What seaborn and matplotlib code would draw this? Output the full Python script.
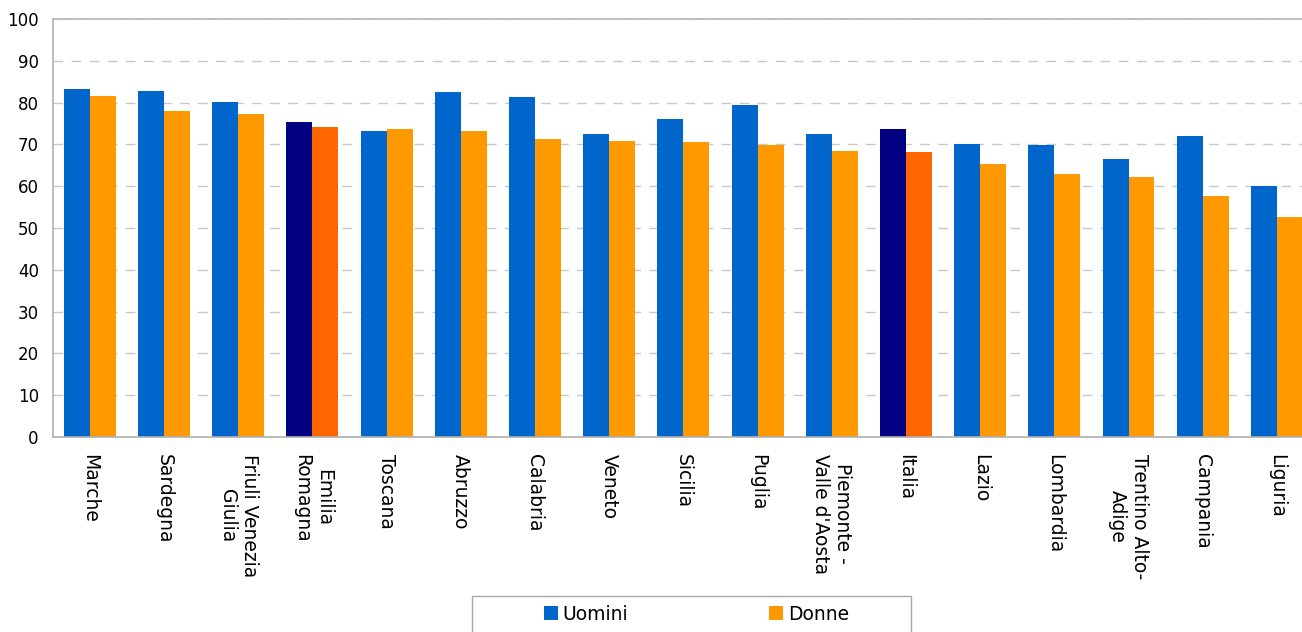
import matplotlib
matplotlib.use("Agg")
import matplotlib.pyplot as plt
import seaborn as sns
import pandas as pd
import numpy as np
from matplotlib.patches import Patch, Rectangle

regions = ["Marche", "Sardegna", "Friuli Venezia\nGiulia", "Emilia\nRomagna", "Toscana",
           "Abruzzo", "Calabria", "Veneto", "Sicilia", "Puglia", "Piemonte -\nValle d'Aosta",
           "Italia", "Lazio", "Lombardia", "Trentino Alto-\nAdige", "Campania", "Liguria"]
uomini = [83.2, 82.8, 80.1, 75.4, 73.2, 82.5, 81.3, 72.5, 76.1, 79.4, 72.5,
          73.7, 70.0, 69.9, 66.5, 72.0, 60.0]
donne = [81.6, 78.0, 77.3, 74.2, 73.7, 73.2, 71.3, 70.8, 70.6, 69.9, 68.4,
         68.2, 65.3, 62.9, 62.2, 57.6, 52.6]
series = ["Uomini", "Donne"]
highlight = ["Emilia\nRomagna", "Italia"]

col_u = "#0066CC"
col_d = "#FF9900"
col_u_hl = "#000080"
col_d_hl = "#FF6600"

df = pd.DataFrame({
    "regione": regions * 2,
    "valore": uomini + donne,
    "sesso": ["Uomini"] * len(regions) + ["Donne"] * len(regions),
})

sns.set_style("white")
plt.rcParams['font.family'] = ['DejaVu Sans']
plt.rcParams['text.color'] = 'black'
plt.rcParams['xtick.color'] = 'black'
plt.rcParams['ytick.color'] = 'black'

W, H = 1302, 632
fig = plt.figure(figsize=(W / 100, H / 100), dpi=100)
left, right, top, bottom = 52.7, 1314.0, 19.0, 437.0
ax = fig.add_axes([left / W, 1 - bottom / H, (right - left) / W, (bottom - top) / H])

sns.barplot(data=df, x="regione", y="valore", hue="sesso", order=regions, hue_order=series,
            palette=[col_u, col_d], width=0.70, saturation=1, ax=ax, legend=False,
            linewidth=0, edgecolor="none")

for i, r in enumerate(regions):
    if r in highlight:
        ax.containers[0][i].set_facecolor(col_u_hl)
        ax.containers[1][i].set_facecolor(col_d_hl)

ax.set_xlim(-0.5, len(regions) - 0.5)
ax.set_ylim(0, 100)
ax.set_yticks(np.arange(0, 101, 10))
ax.yaxis.grid(True, linestyle=(0, (7, 6)), color="#C8C8C8", linewidth=1)
ax.set_axisbelow(True)
ax.set_xlabel("")
ax.set_ylabel("")

ax.set_xticks(range(len(regions)))
ax.set_xticklabels(regions, rotation=270, ha="center", va="top", multialignment="center",
                   fontsize=13.5)
ax.set_xticks(np.arange(-0.5, len(regions), 1), minor=True)
ax.tick_params(axis="x", which="major", length=0, pad=12)
ax.tick_params(axis="x", which="minor", length=5, color="#A8A8A8", width=1, direction="out")
ax.tick_params(axis="y", length=4, color="#A8A8A8", width=1, direction="out", labelsize=12, pad=6)

ax.spines["right"].set_visible(False)
for s in ["left", "bottom", "top"]:
    ax.spines[s].set_color("#B0B0B0")
    ax.spines[s].set_linewidth(1.2)
ax.spines["top"].set_zorder(0.5)

# legend frame drawn in figure pixels
fig.add_artist(Rectangle((472 / W, 1 - 650 / H), (911 - 472) / W, (650 - 596) / H,
                         transform=fig.transFigure, facecolor="white", edgecolor="#A8A8A8",
                         linewidth=1, zorder=1))
handles = [Patch(facecolor=col_u, edgecolor="none"), Patch(facecolor=col_d, edgecolor="none")]
leg = fig.legend(handles, series, loc="center left", bbox_to_anchor=(544 / W, 1 - 614 / H),
                 ncol=2, frameon=False, fontsize=13.5, handlelength=0.75,
                 handleheight=0.75, handletextpad=0.25, columnspacing=7.5, borderpad=0,
                 borderaxespad=0)
leg.set_zorder(2)

fig.savefig("out.png", dpi=100)
